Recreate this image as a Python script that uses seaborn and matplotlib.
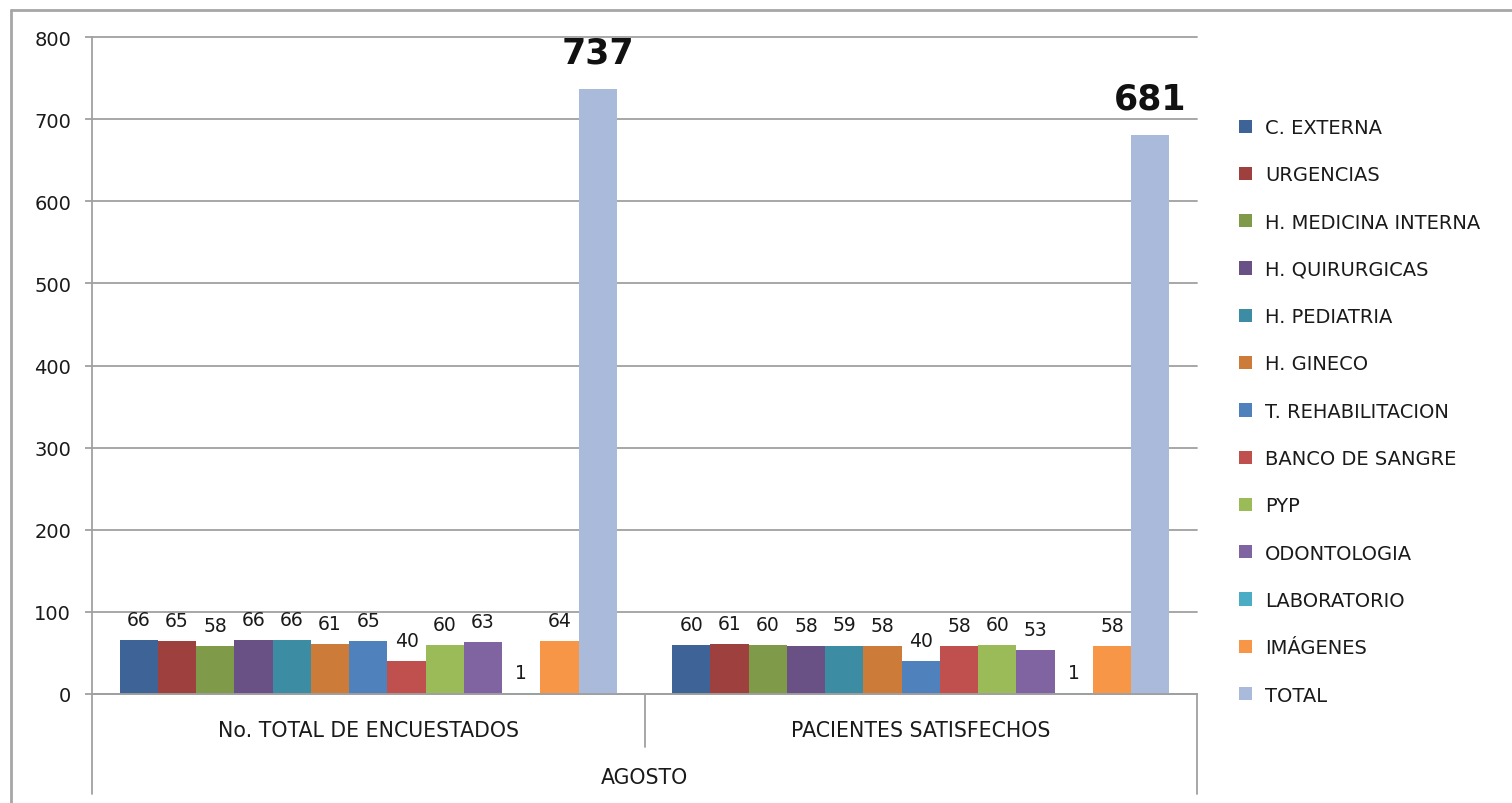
import matplotlib
matplotlib.use("Agg")
import matplotlib.pyplot as plt
from matplotlib.lines import Line2D
import seaborn as sns
import pandas as pd

categories = ["No. TOTAL DE ENCUESTADOS", "PACIENTES SATISFECHOS"]
services = ["C. EXTERNA", "URGENCIAS", "H. MEDICINA INTERNA", "H. QUIRURGICAS",
            "H. PEDIATRIA", "H. GINECO", "T. REHABILITACION", "BANCO DE SANGRE",
            "PYP", "ODONTOLOGIA", "LABORATORIO", "IMÁGENES", "TOTAL"]
encuestados = [66, 65, 58, 66, 66, 61, 65, 40, 60, 63, 1, 64, 737]
satisfechos = [60, 61, 60, 58, 59, 58, 40, 58, 60, 53, 1, 58, 681]
group_label = "AGOSTO"
yticks = [0, 100, 200, 300, 400, 500, 600, 700, 800]

colors = ["#3E6497", "#9E413E", "#7F9A48", "#695185", "#3C8DA3", "#CC7B38",
          "#4F81BD", "#C0504D", "#9BBB59", "#8064A2", "#4BACC6", "#F79646",
          "#AABADA"]

rows = []
for cat, vals in zip(categories, [encuestados, satisfechos]):
    for s, v in zip(services, vals):
        rows.append({"cat": cat, "serv": s, "val": v})
df = pd.DataFrame(rows)

sns.set_style("white")
plt.rcParams["font.family"] = ["DejaVu Sans"]

fig = plt.figure(figsize=(15.12, 8.04), dpi=100)
ax = fig.add_axes([92/1512, 1-695/804, (1197-92)/1512, (695-38)/804])

sns.barplot(data=df, x="cat", y="val", hue="serv", hue_order=services,
            order=categories, palette=colors, width=0.9, gap=0,
            saturation=1, ax=ax, legend=True, edgecolor="none", linewidth=0)

ax.set_ylim(0, 800)
ax.set_xlim(-0.5, 1.5)
ax.set_yticks(yticks)
ax.set_yticklabels([str(t) for t in yticks])
ax.set_xlabel("")
ax.set_ylabel("")
gridc = "#A0A0A0"
ax.yaxis.grid(True, color=gridc, linewidth=1.3)
for gl in ax.get_ygridlines():
    gl.set_clip_on(False)
ax.set_axisbelow(True)
for sp in ["top", "right"]:
    ax.spines[sp].set_visible(False)
ax.spines["left"].set_color(gridc)
ax.spines["left"].set_linewidth(1.3)
ax.spines["bottom"].set_color(gridc)
ax.spines["bottom"].set_linewidth(1.3)
txtc = "#1a1a1a"
ax.tick_params(axis="y", length=5, width=1.3, color=gridc, pad=10,
               labelsize=14, labelcolor=txtc, left=True)
ax.tick_params(axis="x", length=0, pad=19, labelsize=14.8, labelcolor=txtc)

# data labels
for i, cont in enumerate(ax.containers):
    if services[i] == "TOTAL":
        ax.bar_label(cont, labels=[f"{int(v)}" for v in cont.datavalues],
                     padding=14, fontsize=25, fontweight="bold", color="#111111")
    else:
        ax.bar_label(cont, labels=[f"{int(v)}" for v in cont.datavalues],
                     padding=8, fontsize=13.5, color=txtc)

# category separators
axh = 657.0
for x, ybot in [(0, 795), (0.5, 748), (1.0, 795)]:
    ax.add_line(Line2D([x, x], [0, -(ybot-695)/axh], transform=ax.transAxes,
                       color=gridc, linewidth=1.3, clip_on=False))
ax.text(0.5, -(778-695)/axh, group_label, transform=ax.transAxes,
        ha="center", va="center", fontsize=14.8, color=txtc)

# legend
handles, labels = ax.get_legend_handles_labels()
ax.get_legend().remove()
fig.legend(handles, labels, loc="upper left", bbox_to_anchor=(1239/1512, 1-119/804),
           frameon=False, fontsize=14, handlelength=0.68, handleheight=0.68,
           handletextpad=0.65, labelspacing=1.455, borderaxespad=0, borderpad=0,
           labelcolor=txtc)

# chart border
fig.add_artist(Line2D([11/1512, 1.0], [1-11/804, 1-11/804], color="#A6A6A6",
                      linewidth=2, transform=fig.transFigure))
fig.add_artist(Line2D([11/1512, 11/1512], [0, 1-11/804], color="#A6A6A6",
                      linewidth=2, transform=fig.transFigure))

fig.savefig("out.png", dpi=100)
